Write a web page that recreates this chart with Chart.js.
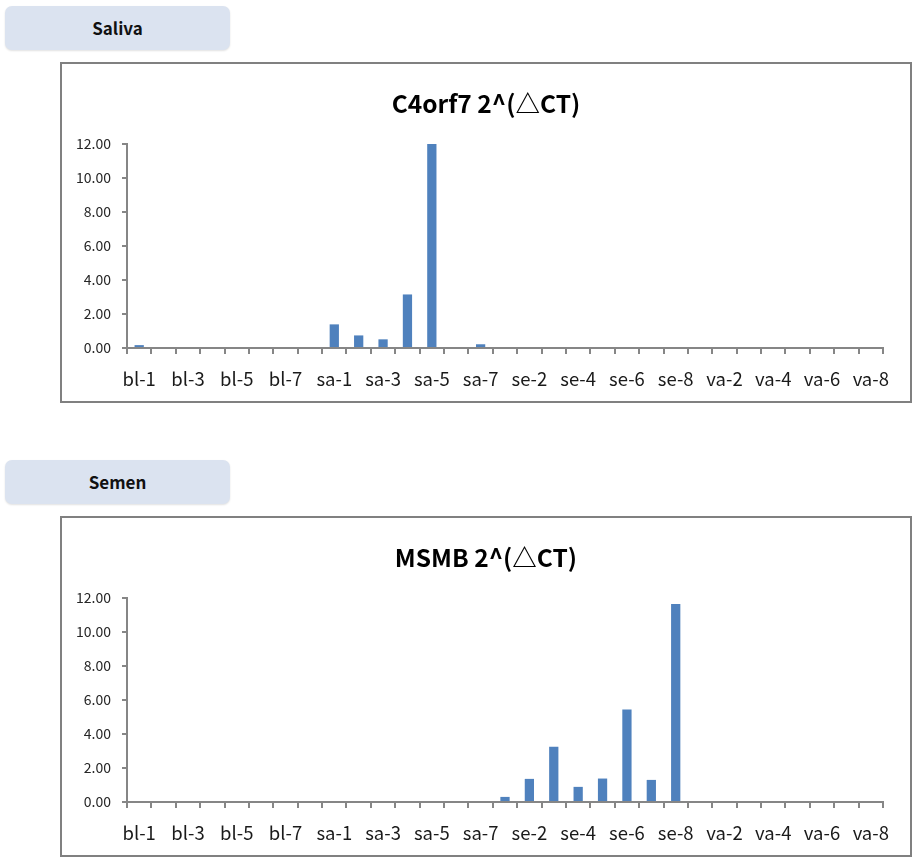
<!DOCTYPE html>
<html>
<head>
<meta charset="utf-8">
<script src="https://cdn.jsdelivr.net/npm/chart.js@4.4.1/dist/chart.umd.min.js"></script>
<style>
  body { margin: 0; background: #fff; width: 917px; height: 860px; position: relative; overflow: hidden; }
  .tag {
    position: absolute; left: 5px; width: 225px; height: 44px;
    background: #dbe3f0; border-radius: 7px;
    box-shadow: 0 1px 2px rgba(0,0,0,0.12);
    font-family: "Noto Sans CJK KR", "Noto Sans", sans-serif; font-weight: bold; font-size: 17px;
    color: #111; text-align: center; line-height: 44px;
  }
  .frame {
    position: absolute; left: 60px; width: 852px; height: 341px;
    box-sizing: border-box; border: 2px solid #808080; background: #fff;
  }
  .frame canvas { display: block; }
  .title {
    position: absolute; left: 0; right: 0; top: 22px; text-align: center;
    font-family: "Noto Sans CJK KR", "Noto Sans", sans-serif; font-weight: bold;
    font-size: 24.5px; line-height: 34px; color: #000;
  }
</style>
</head>
<body>
<div class="tag" style="top:6px">Saliva</div>
<div class="frame" style="top:62px">
  <canvas id="salivaChart" width="848" height="337"></canvas>
  <div class="title">C4orf7 2^(△CT)</div>
</div>
<div class="tag" style="top:460px">Semen</div>
<div class="frame" style="top:516px">
  <canvas id="semenChart" width="848" height="337"></canvas>
  <div class="title">MSMB 2^(△CT)</div>
</div>

<script>
// sample names
const labels = [
  'bl-1', 'bl-2', 'bl-3', 'bl-4', 'bl-5', 'bl-6', 'bl-7', 'bl-8',
  'sa-1', 'sa-2', 'sa-3', 'sa-4', 'sa-5', 'sa-6', 'sa-7',
  'se-1', 'se-2', 'se-3', 'se-4', 'se-5', 'se-6', 'se-7', 'se-8',
  'va-1', 'va-2', 'va-3', 'va-4', 'va-5', 'va-6', 'va-7', 'va-8'
];

// C4orf7 2^(dCT) - saliva marker
const salivaValues = [
  0.17, 0, 0, 0, 0, 0, 0, 0,
  1.39, 0.74, 0.51, 3.15, 12.0, 0, 0.22,
  0, 0, 0, 0, 0, 0, 0, 0,
  0, 0, 0, 0, 0, 0, 0, 0
];

// MSMB 2^(dCT) - semen marker
const semenValues = [
  0, 0, 0, 0, 0, 0, 0, 0,
  0, 0, 0, 0, 0, 0, 0,
  0.3, 1.36, 3.25, 0.89, 1.38, 5.44, 1.3, 11.65,
  0, 0, 0, 0, 0, 0, 0, 0
];

const yTicks = [0, 2, 4, 6, 8, 10, 12];

const axisGray = '#868686';
const fontFamily = '"Noto Sans CJK KR", "Noto Sans", sans-serif';

function makeChart(id, values) {
  const ctx = document.getElementById(id).getContext('2d');
  return new Chart(ctx, {
    type: 'bar',
    data: {
      labels: labels,
      datasets: [{
        data: values,
        backgroundColor: '#4F81BD',
        borderWidth: 0,
        categoryPercentage: 1.0,
        barPercentage: 0.38
      }]
    },
    options: {
      responsive: false,
      animation: false,
      // title is drawn in html above, leave room for it
      layout: { padding: { left: 2, right: 27, top: 80, bottom: 11 } },
      plugins: {
        legend: { display: false },
        tooltip: { enabled: false }
      },
      scales: {
        x: {
          offset: true,
          grid: {
            offset: true,
            drawOnChartArea: false,
            tickLength: 6,
            color: axisGray,
            lineWidth: 2
          },
          border: { color: axisGray, width: 2 },
          ticks: {
            autoSkip: false,
            maxRotation: 0,
            padding: 14,
            color: '#1a1a1a',
            font: { family: fontFamily, size: 18.5 },
            // every other sample name, like the original
            callback: function (val, i) { return i % 2 === 0 ? labels[i] : ''; }
          },
          afterFit: function (scale) { scale.height = 42; }
        },
        y: {
          min: 0,
          max: 12,
          afterBuildTicks: function (scale) {
            scale.ticks = yTicks.map(v => ({ value: v }));
          },
          grid: {
            drawOnChartArea: false,
            tickLength: 5,
            color: axisGray,
            lineWidth: 2
          },
          border: { color: axisGray, width: 2 },
          ticks: {
            padding: 11,
            color: '#262626',
            font: { family: fontFamily, size: 14 },
            callback: v => v.toFixed(2)
          },
          afterFit: function (scale) { scale.width = 63; }
        }
      }
    }
  });
}

makeChart('salivaChart', salivaValues);
makeChart('semenChart', semenValues);
</script>
</body>
</html>
